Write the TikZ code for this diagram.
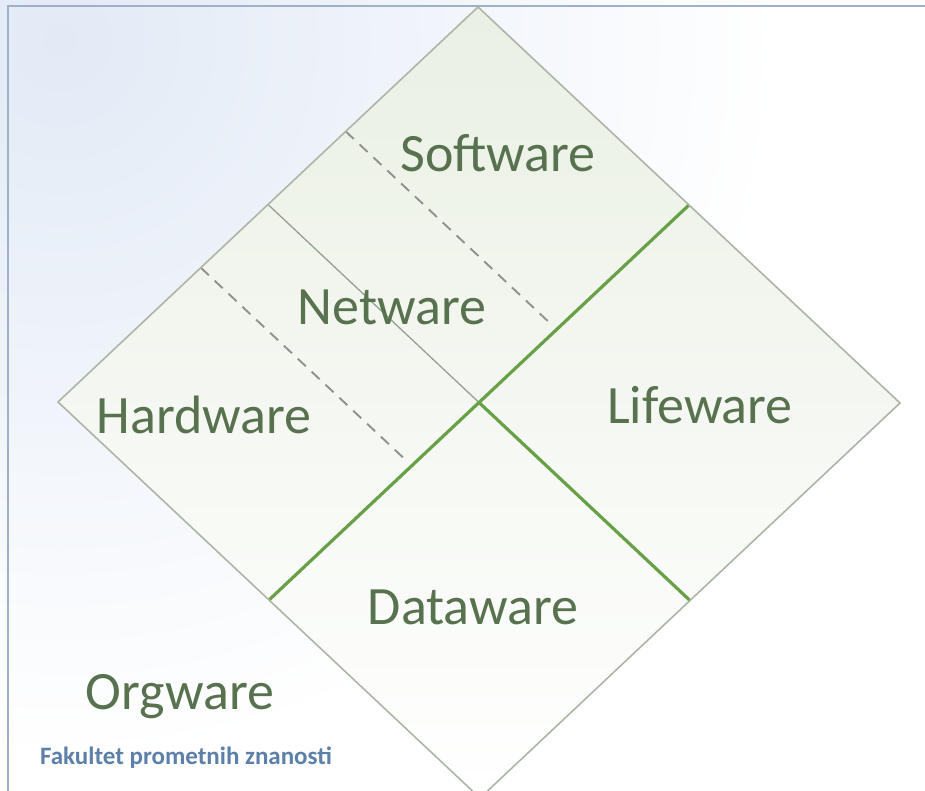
\documentclass[tikz,border=0pt]{standalone}
\usepackage{fontspec}
\setmainfont{Carlito}
\usetikzlibrary{calc}
\definecolor{lbl}{RGB}{88,114,80}
\definecolor{fak}{RGB}{92,128,170}
\definecolor{edge}{RGB}{172,182,166}
\definecolor{grn}{RGB}{104,160,72}
\definecolor{divg}{RGB}{150,160,145}
\definecolor{dash}{RGB}{145,145,140}
\definecolor{frame}{RGB}{160,176,200}
\definecolor{bgblue}{RGB}{226,234,246}
\definecolor{dtop}{RGB}{234,240,228}
\tikzset{
  lab/.style={text=lbl, font=\fontsize{54}{60}\selectfont, inner sep=0pt},
  outline/.style={draw=edge, line width=1.6pt},
  greenline/.style={draw=grn, line width=3.2pt},
  divider/.style={draw=divg, line width=1.3pt},
  dashdiv/.style={draw=dash, line width=1.9pt, dash pattern=on 11pt off 8pt},
  framel/.style={draw=frame, line width=1.5pt}
}
\begin{document}
\begin{tikzpicture}[x=1pt,y=-1pt]
\useasboundingbox (0,0) rectangle (925,791);
\clip (0,0) rectangle (925,791);
% background
\fill[white] (0,0) rectangle (925,791);
\shade[inner color=bgblue, outer color=white] (60,40) circle (720);
% frame
\draw[framel] (8,791) -- (8,6) -- (925,6);
% diamond corners
\coordinate (T) at (478,7);
\coordinate (R) at (900,403);
\coordinate (B) at (480,798);
\coordinate (L) at (58,402);
\coordinate (C) at (479,402.5);
\coordinate (M1) at ($(T)!0.5!(R)$);
\coordinate (M2) at ($(L)!0.5!(B)$);
\coordinate (M3) at ($(T)!0.5!(L)$);
\coordinate (M4) at ($(R)!0.5!(B)$);
\coordinate (D1s) at ($(T)!0.315!(L)$);
\coordinate (D1e) at ($(D1s)+0.48*(422,396)$);
\coordinate (D2s) at ($(T)!0.66!(L)$);
\coordinate (D2e) at ($(D2s)+0.48*(422,396)$);
% fill
\shade[top color=dtop, middle color=white, bottom color=white] (T) -- (R) -- (B) -- (L) -- cycle;
% dividers
\draw[divider] (M3) -- (C);
\draw[dashdiv] (D1s) -- (D1e);
\draw[dashdiv] (D2s) -- (D2e);
\draw[greenline] (M2) -- (M1);
\draw[greenline] (C) -- (M4);
\draw[outline] (T) -- (R) -- (B) -- (L) -- cycle;
% labels
\node[lab] (sw) at (498,153) {Software};
\node[lab] (nw) at (392,307) {Netware};
\node[lab] (hw) at (204,415) {Hardware};
\node[lab] (lw) at (700,405) {Lifeware};
\node[lab] (dw) at (473,607) {Dataware};
\node[lab] (ow) at (180,697) {Orgware};
\node[text=fak, font=\bfseries\fontsize{25}{28}\selectfont, inner sep=0pt] (fk) at (186,758) {Fakultet prometnih znanosti};
\end{tikzpicture}
\end{document}
